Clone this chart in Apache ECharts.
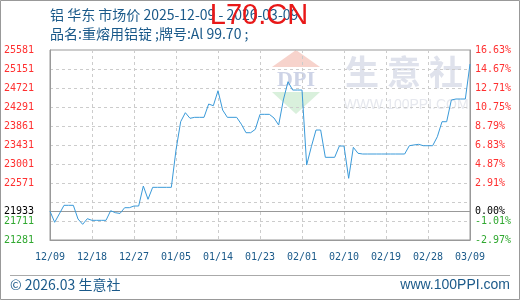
<!DOCTYPE html>
<html><head><meta charset="utf-8">
<script src="https://cdn.jsdelivr.net/npm/echarts@6/dist/echarts.min.js"></script>
<style>html,body{margin:0;padding:0;background:#fff}#c{width:520px;height:300px}</style>
</head><body><div id="c"></div>
<script>
const dates = [
 '12/09','12/10','12/11','12/12','12/13','12/14','12/15','12/16','12/17','12/18','12/19','12/20','12/21','12/22','12/23','12/24','12/25','12/26','12/27','12/28','12/29','12/30','12/31',
 '01/01','01/02','01/03','01/04','01/05','01/06','01/07','01/08','01/09','01/10','01/11','01/12','01/13','01/14','01/15','01/16','01/17','01/18','01/19','01/20','01/21','01/22','01/23','01/24','01/25','01/26','01/27','01/28','01/29','01/30','01/31',
 '02/01','02/02','02/03','02/04','02/05','02/06','02/07','02/08','02/09','02/10','02/11','02/12','02/13','02/14','02/15','02/16','02/17','02/18','02/19','02/20','02/21','02/22','02/23','02/24','02/25','02/26','02/27','02/28',
 '03/01','03/02','03/03','03/04','03/05','03/06','03/07','03/08','03/09'
];
const prices = [
 21933,21682,21872,22066,22066,22066,21756,21636,21763,21726,21726,21726,21726,21944,21899,21882,22012,22012,22050,22050,22503,22202,22473,
 22473,22473,22473,22473,23317,23958,24162,24035,24057,24057,24057,24358,24320,24659,24222,24057,24057,24057,23902,23709,23709,23786,24125,24125,24125,24042,23883,24449,24863,24675,24675,
 24675,22978,23392,23770,23770,23152,23152,23152,23408,23408,22677,23378,23243,23227,23227,23227,23227,23227,23227,23227,23227,23227,23227,23415,23432,23446,23415,23415,
 23415,23618,23958,23958,24449,24472,24472,24472,25263
];
const baseValue = 21933;
const yMin = 21281, yMax = 25581, yStep = 430;
const yLabelValues = [21281,21711,21933,22571,23001,23431,23861,24291,24721,25151,25581];
const titleLine1 = '铝 华东 市场价 2025-12-09 - 2026-03-09';
const titleLine2 = '品名:重熔用铝锭 ;牌号:Al 99.70 ;';
const footerLeft = '© 2026.03 生意社';
const footerRight = 'www.100PPI.com';
const watermarkRed = 'L70.CN';

const labFont = {fontFamily:'DejaVu Sans Mono', fontSize:10};
const rich = {
  r: Object.assign({color:'#ff3030'}, labFont),
  k: Object.assign({color:'#000000'}, labFont),
  g: Object.assign({color:'#30a830'}, labFont)
};
function tag(v){ return v > baseValue ? 'r' : (v === baseValue ? 'k' : 'g'); }
const blue = '#1b5a8a';
const chart = echarts.init(document.getElementById('c'), null, {renderer:'canvas'});
chart.setOption({
  animation:false,
  backgroundColor:'#ffffff',
  grid:{left:50, top:50, right:50, bottom:60, show:true, borderColor:'#999', borderWidth:1, backgroundColor:'transparent'},
  xAxis:{
    type:'category', data:dates, boundaryGap:false,
    axisLine:{lineStyle:{color:'#999'}}, axisTick:{show:false},
    axisLabel:{interval:(i)=>i%9===0, color:blue, fontFamily:'DejaVu Sans Mono', fontSize:10, margin:12},
    splitLine:{show:true, interval:(i)=>i%9===0, lineStyle:{color:'#cccccc', type:[3,3]}}
  },
  yAxis:[{
    type:'value', min:yMin, max:yMax, interval:yStep, position:'left',
    axisLine:{show:true, lineStyle:{color:'#999'}}, axisTick:{show:false},
    axisLabel:{customValues:yLabelValues, margin:16, formatter:(v)=>'{'+tag(v)+'|'+v+'}', rich:rich},
    splitLine:{show:true, lineStyle:{color:'#cccccc', type:[3,3]}}
  },{
    type:'value', min:yMin, max:yMax, interval:yStep, position:'right',
    axisLine:{show:true, lineStyle:{color:'#999'}}, axisTick:{show:false},
    axisLabel:{customValues:yLabelValues, margin:5, formatter:(v)=>'{'+tag(v)+'|'+((v-baseValue)/baseValue*100).toFixed(2)+'%}', rich:rich},
    splitLine:{show:false}
  }],
  series:[{
    type:'line', data:prices, showSymbol:false, z:5,
    lineStyle:{color:'#3a9ad9', width:1}, itemStyle:{color:'#3a9ad9'},
    markLine:{silent:true, symbol:'none', label:{show:false}, lineStyle:{color:'#999', type:'solid', width:1}, data:[{yAxis:baseValue}]}
  }],
  graphic:[
    {type:'rect', z:-2, shape:{x:0.5,y:0.5,width:519,height:299}, style:{fill:null, stroke:'#999', lineWidth:1}},
    {type:'line', z:-2, shape:{x1:10,y1:275.5,x2:510,y2:275.5}, style:{stroke:'#aaa', lineWidth:1}},
    {type:'polygon', z:-1, shape:{points:[[296,50],[272,67],[320,67]]}, style:{fill:'#f7d3cc'}},
    {type:'text', z:-1, style:{x:296, y:80, text:'DPI', font:'bold 22px "Liberation Serif"', fill:'#cdd3e6', align:'center', verticalAlign:'middle'}},
    {type:'polygon', z:-1, shape:{points:[[272,92],[320,92],[296,114]]}, style:{fill:'#d9f0dc'}},
    {type:'text', z:-1, style:{x:362, y:72, text:'生', font:'bold 34px "Noto Sans CJK SC"', fill:'#dfe2ec', align:'center', verticalAlign:'middle'}},
    {type:'text', z:-1, style:{x:404, y:72, text:'意', font:'bold 34px "Noto Sans CJK SC"', fill:'#dfe2ec', align:'center', verticalAlign:'middle'}},
    {type:'text', z:-1, style:{x:446, y:72, text:'社', font:'bold 34px "Noto Sans CJK SC"', fill:'#dfe2ec', align:'center', verticalAlign:'middle'}},
    {type:'text', z:-1, style:{x:406, y:105, text:'WWW.100PPI.COM', font:'14px "Liberation Sans"', fill:'#e6e8ee', align:'center', verticalAlign:'middle'}},
    {type:'text', z:50, style:{x:50, y:15, text:titleLine1, font:'14px "Noto Sans CJK SC"', fill:blue, align:'left', verticalAlign:'middle'}},
    {type:'text', z:50, style:{x:50, y:34, text:titleLine2, font:'14px "Noto Sans CJK SC"', fill:blue, align:'left', verticalAlign:'middle'}},
    {type:'text', z:60, style:{x:259, y:16, text:watermarkRed, font:'29px "Liberation Sans"', fill:'#e81818', align:'center', verticalAlign:'middle'}},
    {type:'text', z:50, style:{x:10, y:285, text:footerLeft, font:'14px "Noto Sans CJK SC"', fill:blue, align:'left', verticalAlign:'middle'}},
    {type:'text', z:50, style:{x:510, y:285, text:footerRight, font:'14px "Liberation Sans"', fill:blue, align:'right', verticalAlign:'middle'}}
  ]
});
</script></body></html>
